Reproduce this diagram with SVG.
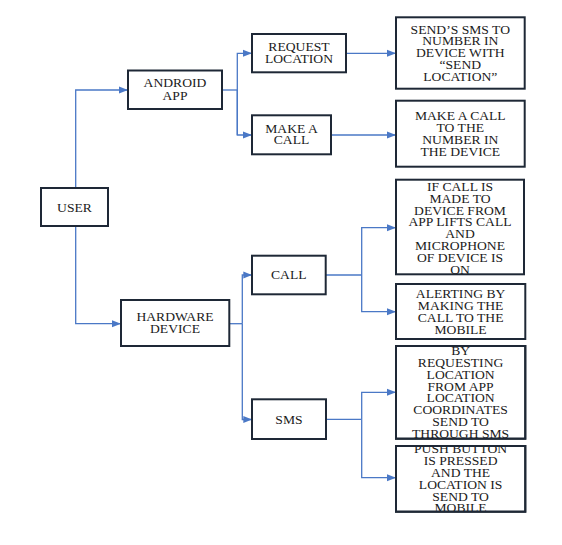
<svg xmlns="http://www.w3.org/2000/svg" width="562" height="545" viewBox="0 0 562 545">
<style>
.box{fill:#fff;stroke:#1e2836;stroke-width:2}
.t{font-family:'Liberation Serif','Times New Roman','DejaVu Serif',serif;font-size:12.5px;fill:#1a1a1a;text-anchor:middle}
.c{fill:none;stroke:#4a78c6;stroke-width:1.3}
</style>
<defs>
<marker id="ar" markerWidth="9" markerHeight="8" refX="8.5" refY="4" orient="auto" markerUnits="userSpaceOnUse">
<path d="M0,0.5 L9,4 L0,7.5 Z" fill="#4a78c6"/>
</marker>
<clipPath id="cp1"><rect x="396" y="346" width="129" height="93"/></clipPath>
<clipPath id="cp2"><rect x="396" y="446" width="129" height="66"/></clipPath>
</defs>
<rect width="562" height="545" fill="#fff"/>
<g id="connectors">
<path class="c" d="M75.7,188 V90 H127.5" marker-end="url(#ar)"/>
<path class="c" d="M75.7,226 V323.7 H120.5" marker-end="url(#ar)"/>
<path class="c" d="M222,90 H237.3"/>
<path class="c" d="M237.3,135 V53.3 H251.5" marker-end="url(#ar)"/>
<path class="c" d="M237.3,90 V135 H251.5" marker-end="url(#ar)"/>
<path class="c" d="M346,53.3 H395.5" marker-end="url(#ar)"/>
<path class="c" d="M331,135 H395.5" marker-end="url(#ar)"/>
<path class="c" d="M229.3,323.7 H242.3"/>
<path class="c" d="M242.3,323.7 V275 H251.8" marker-end="url(#ar)"/>
<path class="c" d="M242.3,323.7 V419.5 H251.8" marker-end="url(#ar)"/>
<path class="c" d="M325.7,275 H361.7"/>
<path class="c" d="M361.7,275 V227.7 H395.5" marker-end="url(#ar)"/>
<path class="c" d="M361.7,275 V311.7 H395.5" marker-end="url(#ar)"/>
<path class="c" d="M326,419.3 H361.7"/>
<path class="c" d="M361.7,419.3 V392.3 H395.5" marker-end="url(#ar)"/>
<path class="c" d="M361.7,419.3 V477.7 H395.5" marker-end="url(#ar)"/>
</g>
<g id="user">
<rect class="box" x="41" y="188" width="67" height="38"/>
<text class="t" transform="matrix(1.09,0,0,1,-6.705,0)" x="74.5" y="211.6">USER</text>
</g>
<g id="android-app">
<rect class="box" x="128" y="70.5" width="94" height="38.5"/>
<text class="t" transform="matrix(1.09,0,0,1,-15.75,0)" x="175" y="87">ANDROID<tspan x="175" dy="12.6">APP</tspan></text>
</g>
<g id="hardware-device">
<rect class="box" x="121" y="300" width="108.3" height="46"/>
<text class="t" transform="matrix(1.09,0,0,1,-15.75,0)" x="175" y="321">HARDWARE<tspan x="175" dy="12.3">DEVICE</tspan></text>
</g>
<g id="request-location">
<rect class="box" x="252" y="34" width="94" height="38.3"/>
<text class="t" transform="matrix(1.09,0,0,1,-26.91,0)" x="299" y="51">REQUEST<tspan x="299" dy="12.3">LOCATION</tspan></text>
</g>
<g id="make-a-call">
<rect class="box" x="252" y="115.3" width="79" height="39"/>
<text class="t" transform="matrix(1.09,0,0,1,-26.235,0)" x="291.5" y="132.6">MAKE A<tspan x="291.5" dy="11.7">CALL</tspan></text>
</g>
<g id="call">
<rect class="box" x="252" y="255.7" width="73.7" height="38.6"/>
<text class="t" transform="matrix(1.09,0,0,1,-25.992,0)" x="288.8" y="279.3">CALL</text>
</g>
<g id="sms">
<rect class="box" x="252" y="399.3" width="74" height="39.7"/>
<text class="t" transform="matrix(1.09,0,0,1,-26.01,0)" x="289" y="423.6">SMS</text>
</g>
<g id="send-sms">
<rect class="box" x="396" y="17.3" width="128.7" height="71.4"/>
<text class="t" transform="matrix(1.09,0,0,1,-41.427,0)" x="460.3" y="33.6">SEND’S SMS TO<tspan x="460.3" dy="11.8">NUMBER IN</tspan><tspan x="460.3" dy="11.8">DEVICE WITH</tspan><tspan x="460.3" dy="11.8">“SEND</tspan><tspan x="460.3" dy="11.8">LOCATION”</tspan></text>
</g>
<g id="make-call-number">
<rect class="box" x="396" y="100.7" width="128.7" height="66"/>
<text class="t" transform="matrix(1.09,0,0,1,-41.427,0)" x="460.3" y="120.3">MAKE A CALL<tspan x="460.3" dy="11.9">TO THE</tspan><tspan x="460.3" dy="11.9">NUMBER IN</tspan><tspan x="460.3" dy="11.9">THE DEVICE</tspan></text>
</g>
<g id="if-call">
<rect class="box" x="396" y="179.7" width="128" height="94.6"/>
<text class="t" transform="matrix(1.09,0,0,1,-41.4,0)" x="460" y="191">IF CALL IS<tspan x="460" dy="11.8">MADE TO</tspan><tspan x="460" dy="11.8">DEVICE FROM</tspan><tspan x="460" dy="11.8">APP LIFTS CALL</tspan><tspan x="460" dy="11.8">AND</tspan><tspan x="460" dy="11.8">MICROPHONE</tspan><tspan x="460" dy="11.8">OF DEVICE IS</tspan><tspan x="460" dy="11.8">ON</tspan></text>
</g>
<g id="alerting">
<rect class="box" x="396" y="284" width="129.3" height="55"/>
<text class="t" transform="matrix(1.09,0,0,1,-41.454,0)" x="460.6" y="297.6">ALERTING BY<tspan x="460.6" dy="12">MAKING THE</tspan><tspan x="460.6" dy="12">CALL TO THE</tspan><tspan x="460.6" dy="12">MOBILE</tspan></text>
</g>
<g id="by-requesting">
<rect class="box" x="396" y="346" width="129.3" height="92.7"/>
<g clip-path="url(#cp1)">
<text class="t" transform="matrix(1.09,0,0,1,-41.454,0)" x="460.6" y="355.3">BY<tspan x="460.6" dy="11.8">REQUESTING</tspan><tspan x="460.6" dy="11.8">LOCATION</tspan><tspan x="460.6" dy="11.8">FROM APP</tspan><tspan x="460.6" dy="11.8">LOCATION</tspan><tspan x="460.6" dy="11.8">COORDINATES</tspan><tspan x="460.6" dy="11.8">SEND TO</tspan><tspan x="460.6" dy="11.8">THROUGH SMS</tspan></text>
</g>
<rect x="396" y="346" width="129.3" height="92.7" fill="none" stroke="#1e2836" stroke-width="2"/>
</g>
<g id="push-button">
<rect class="box" x="396" y="446" width="129.3" height="65.7"/>
<g clip-path="url(#cp2)">
<text class="t" transform="matrix(1.09,0,0,1,-41.454,0)" x="460.6" y="453">PUSH BUTTON<tspan x="460.6" dy="11.9">IS PRESSED</tspan><tspan x="460.6" dy="11.9">AND THE</tspan><tspan x="460.6" dy="11.9">LOCATION IS</tspan><tspan x="460.6" dy="11.9">SEND TO</tspan><tspan x="460.6" dy="11.9">MOBILE</tspan></text>
</g>
<rect x="396" y="446" width="129.3" height="65.7" fill="none" stroke="#1e2836" stroke-width="2"/>
</g>
</svg>
